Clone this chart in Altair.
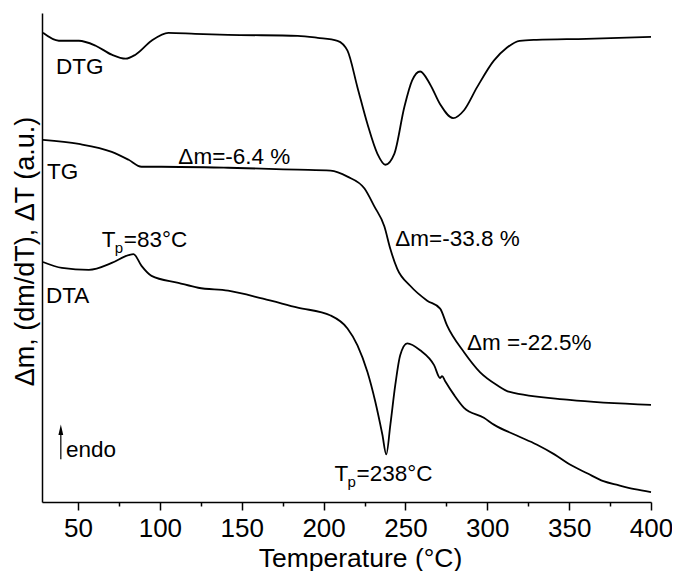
import altair as alt
import pandas as pd

FONT = "Liberation Sans"

# ---- curve data (temperature in °C, signal in arbitrary units) ----
dtg_t = [28.6, 38.3, 50.5, 60.8, 70.6, 79.1, 85.1, 94.9, 105.2, 121.6, 141.7, 184.2, 196.4,
         208.5, 214.6, 220.7, 226.8, 232.9, 237.7, 243.2, 249.3, 254.1, 259.0, 265.1, 271.2,
         279.1, 285.8, 293.7, 304.0, 311.9, 319.8, 330.1, 360.5, 400.0]
dtg_v = [473, 465, 465, 460, 451, 447, 451, 465, 473, 472, 471, 470, 468,
         465, 455, 418, 381, 351, 340, 351, 398, 425, 434, 421, 401,
         387, 395, 418, 445, 458, 465, 466, 467, 469]

tg_t = [28.6, 50.5, 70.6, 80.9, 88.8, 101.0, 141.7, 184.2, 204.3, 214.6, 225.0, 231.0, 237.1,
        240.8, 245.0, 252.9, 263.3, 271.2, 275.4, 285.8, 295.5, 305.8, 313.7, 350.2, 400.0]
tg_v = [365, 361, 353, 345, 338, 338, 337, 335, 334, 328, 316, 298, 278,
        255, 235, 218, 203, 195, 178, 151, 131, 118, 111, 103, 98]

dta_t = [28.6, 40.2, 56.6, 70.6, 80.9, 83.9, 88.8, 94.9, 111.3, 123.4, 141.7, 163.0, 184.2,
         204.3, 214.6, 220.7, 226.8, 231.6, 235.9, 238.3, 240.8, 243.8, 246.8, 251.1, 259.0,
         267.5, 271.2, 272.4, 274.2, 279.7, 285.8, 297.9, 304.0, 318.0, 330.1, 341.0,
         350.2, 361.0, 370.9, 380.0, 390.0, 400.0]
dta_v = [242, 236, 234, 241, 249, 250, 238, 228, 221, 216, 213, 205, 196,
         188, 175, 158, 131, 101, 68, 48, 78, 118, 148, 160, 153,
         138, 125, 127, 122, 108, 95, 85, 78, 67, 58, 48,
         38, 29, 21, 17, 13, 10]

x_ticks = [50, 75, 100, 125, 150, 175, 200, 225, 250, 275, 300, 325, 350, 375, 400]

# ---- annotation texts ----
label_text = ["DTG", "TG", "DTA", "Δm=-6.4 %", "Δm=-33.8 %", "Δm =-22.5%", "endo"]
label_t = [36.5, 31.0, 30.4, 111.3, 243.8, 287.6, 42.6]
label_v = [431, 326, 201, 341, 258, 153, 45]

tp_rest = ["=83°C", "=238°C"]
tp_t = [64.5, 206.7]
tp_v = [257, 21]

arrow_t = [39.5]
arrow_v0 = [43]
arrow_v1 = [70]
arrow_head_v = [72]

curves = pd.concat([
    pd.DataFrame({"series": "DTG", "T": dtg_t, "v": dtg_v}),
    pd.DataFrame({"series": "TG", "T": tg_t, "v": tg_v}),
    pd.DataFrame({"series": "DTA", "T": dta_t, "v": dta_v}),
], ignore_index=True)
labels = pd.DataFrame({"T": label_t, "v": label_v, "text": label_text})
tp = pd.DataFrame({"T": tp_t, "v": tp_v, "rest": tp_rest})
arrow = pd.DataFrame({"T": arrow_t, "v0": arrow_v0, "v1": arrow_v1, "vh": arrow_head_v})

x_scale = alt.Scale(domain=[28, 400], nice=False, zero=False)
y_scale = alt.Scale(domain=[0, 493], nice=False, zero=False)

x_axis = alt.Axis(
    title="Temperature (°C)",
    values=x_ticks,
    format="d",
    labelExpr="datum.value % 50 === 0 ? datum.label : ''",
    tickSize={"condition": {"test": "datum.value % 50 === 0", "value": 8}, "value": 4},
    tickColor="black", tickWidth=1.5,
    domainColor="black", domainWidth=1.5,
    grid=False,
    labelFont=FONT, labelFontSize=26, labelColor="black", labelPadding=5,
    labelFlush=False, labelOverlap=False, labelBound=False,
    titleFont=FONT, titleFontSize=26.5, titleFontWeight="normal", titleColor="black",
    titlePadding=4, titleX=318,
)
y_axis = alt.Axis(
    title="Δm, (dm/dT), ΔT (a.u.)",
    labels=False, ticks=False, grid=False,
    domainColor="black", domainWidth=1.5,
    titleFont=FONT, titleFontSize=27, titleFontWeight="normal", titleColor="black",
    titleAngle=270, titleX=-9, titleY=238, titleAlign="center", titleBaseline="alphabetic",
)

lines = alt.Chart(curves).mark_line(color="black", strokeWidth=1.8, interpolate="monotone").encode(
    x=alt.X("T:Q", scale=x_scale, axis=x_axis),
    y=alt.Y("v:Q", scale=y_scale, axis=y_axis),
    detail="series:N",
)

txt = alt.Chart(labels).mark_text(
    align="left", baseline="alphabetic", font=FONT, fontSize=22.5, color="black"
).encode(x=alt.X("T:Q", scale=x_scale), y=alt.Y("v:Q", scale=y_scale), text="text:N")

tp_T = alt.Chart(tp).mark_text(
    align="left", baseline="alphabetic", font=FONT, fontSize=22.5, color="black", text="T"
).encode(x=alt.X("T:Q", scale=x_scale), y=alt.Y("v:Q", scale=y_scale))
tp_p = alt.Chart(tp).mark_text(
    align="left", baseline="alphabetic", font=FONT, fontSize=15, color="black", text="p", dx=13, dy=6
).encode(x=alt.X("T:Q", scale=x_scale), y=alt.Y("v:Q", scale=y_scale))
tp_r = alt.Chart(tp).mark_text(
    align="left", baseline="alphabetic", font=FONT, fontSize=22.5, color="black", dx=22
).encode(x=alt.X("T:Q", scale=x_scale), y=alt.Y("v:Q", scale=y_scale), text="rest:N")

arrow_line = alt.Chart(arrow).mark_rule(color="black", strokeWidth=1.2).encode(
    x=alt.X("T:Q", scale=x_scale), y=alt.Y("v0:Q", scale=y_scale), y2="v1:Q"
)
arrow_head = alt.Chart(arrow).mark_point(
    shape="M0,-2L0.8,1.5L-0.8,1.5Z", filled=True, color="black", opacity=1, size=36
).encode(x=alt.X("T:Q", scale=x_scale), y=alt.Y("vh:Q", scale=y_scale))

chart = alt.layer(lines, txt, tp_T, tp_p, tp_r, arrow_line, arrow_head).properties(
    width=609, height=489,
    autosize="none",
    padding={"left": 34, "top": 5, "right": 21, "bottom": 69},
    background="white",
).configure_view(stroke=None)

chart.save("out.html", embed_options={"renderer": "svg", "actions": False})
